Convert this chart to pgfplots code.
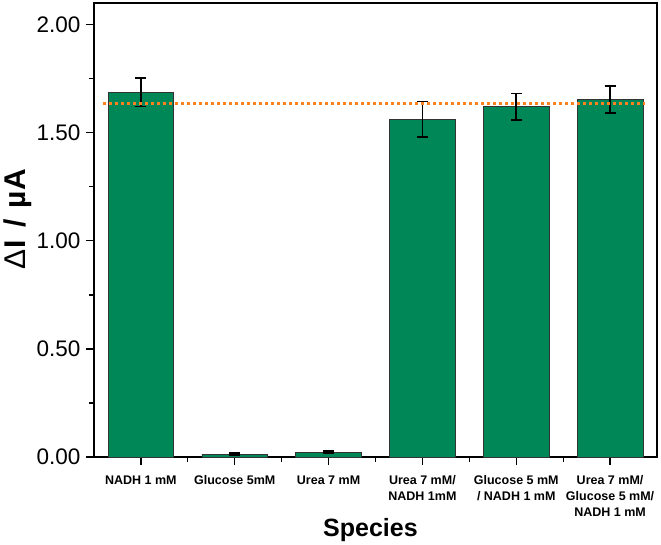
\documentclass[border=0pt]{standalone}
\usepackage{pgfplots}
\pgfplotsset{compat=1.18}
\usepackage{fontspec}
\setmainfont{Liberation Sans}
\definecolor{bargreen}{RGB}{0,135,88}
\definecolor{refline}{RGB}{255,128,30}
\begin{document}
\begin{tikzpicture}
\useasboundingbox (-94pt,-87pt) rectangle (567pt,457pt);
\begin{axis}[
  scale only axis, width=563pt, height=454pt,
  xmin=-0.5, xmax=5.5, ymin=0, ymax=2.1,
  xtick={0,1,2,3,4,5},
  minor xtick={0.5,1.5,2.5,3.5,4.5},
  xticklabels={{NADH 1 mM},{Glucose 5mM},{Urea 7 mM},{Urea 7 mM/\\NADH 1mM},{Glucose 5 mM\\/ NADH 1 mM},{Urea 7 mM/\\Glucose 5 mM/\\NADH 1 mM}},
  xticklabel style={align=center, yshift=-7pt, font=\bfseries\fontsize{12.5}{16}\selectfont},
  ytick={0,0.5,1,1.5,2},
  minor ytick={0.25,0.75,1.25,1.75},
  yticklabel style={xshift=-2pt, font=\fontsize{22.5}{25}\selectfont, /pgf/number format/.cd, fixed, fixed zerofill, precision=2},
  /pgf/number format/assume math mode=true,
  tick align=outside, tick pos=left,
  major tick length=8pt, minor tick length=5pt,
  every tick/.style={black, line width=1.3pt},
  axis line style={line width=1.3pt},
  xlabel={Species},
  ylabel={{\mdseries Δ}I\hspace{0.15em} / \hspace{0.1em}µA},
  xlabel style={font=\bfseries\fontsize{25}{28}\selectfont, at={(axis description cs:0.491,-0.16)}, anchor=center},
  ylabel style={font=\bfseries\fontsize{30}{32}\selectfont, at={(axis description cs:-0.135,0.524)}, anchor=center},
]
\addplot[ybar, bar width=0.7, fill=bargreen, draw=black!80, line width=0.8pt,
  error bars/.cd, y dir=both, y explicit,
  error bar style={black, line width=1.6pt},
  error mark options={rotate=90, mark size=5.5pt, line width=1.6pt, black}]
  coordinates {
    (0,1.687) +- (0,0.065)
    (1,0.013) +- (0,0.005)
    (2,0.023) +- (0,0.004)
    (3,1.563) +- (0,0.082)
    (4,1.620) +- (0,0.062)
    (5,1.654) +- (0,0.062)
  };
\addplot[refline, line width=3pt, dash pattern=on 3pt off 3pt]
  coordinates {(-0.4,1.637) (5.37,1.637)};
\end{axis}
\end{tikzpicture}
\end{document}
